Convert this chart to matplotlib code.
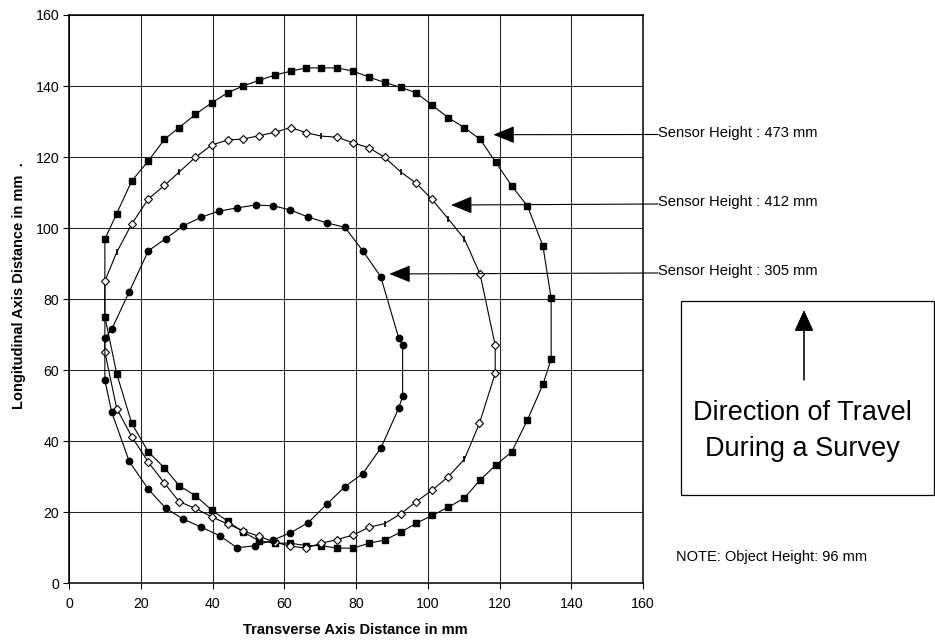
import numpy as np
import matplotlib
matplotlib.use('Agg')
import matplotlib.pyplot as plt
from matplotlib.patches import Rectangle

plt.rcParams['font.family'] = ['Liberation Sans', 'DejaVu Sans']

# ---- data (paths traced around each loop) ----
# Sensor height 473 mm (filled squares)
x473 = [10.0, 13.3, 17.5, 22.1, 26.6, 30.7, 35.2, 39.8, 44.2, 48.5, 53.0, 57.4, 61.9, 66.0, 70.3,
        74.7, 79.2, 83.7, 88.0, 92.5, 96.8, 101.2, 105.7, 110.2, 114.6, 118.9, 123.4, 127.8, 132.1,
        134.4, 134.4, 132.1, 127.8, 123.4, 118.9, 114.6, 110.2, 105.7, 101.2, 96.8, 92.5, 88.0,
        83.7, 79.2, 74.7, 70.3, 66.1, 61.7, 57.3, 52.9, 48.6, 44.2, 39.8, 35.2, 30.7, 26.6, 22.1,
        17.5, 13.3, 10.0, 10.0]
y473 = [96.9, 104.1, 113.3, 118.9, 125.0, 128.3, 132.0, 135.3, 138.1, 140.0, 141.6, 143.1, 144.2,
        145.1, 145.1, 145.1, 144.2, 142.5, 141.0, 139.6, 138.1, 134.6, 131.1, 128.3, 125.0, 118.6,
        111.9, 106.2, 95.0, 80.2, 63.1, 56.0, 46.0, 37.0, 33.2, 29.1, 24.0, 21.4, 19.1, 16.9, 14.4,
        12.2, 11.3, 9.9, 9.9, 10.6, 10.6, 11.3, 11.3, 12.0, 14.4, 17.5, 20.6, 24.7, 27.5, 32.5,
        37.0, 45.0, 59.0, 75.1, 96.9]

# Sensor height 412 mm (open diamonds, some points drawn as short ticks)
x412 = [10.0, 13.3, 17.5, 22.1, 26.6, 30.7, 35.2, 39.8, 44.2, 48.5, 53.0, 57.4, 61.8, 66.0, 70.3,
        74.7, 79.2, 83.7, 88.0, 92.5, 96.8, 101.2, 105.7, 110.2, 114.6, 118.8, 118.8, 114.4, 110.2,
        105.7, 101.2, 96.8, 92.5, 88.0, 83.7, 79.2, 74.7, 70.3, 66.0, 61.6, 57.3, 53.0, 48.5, 44.2,
        39.8, 35.2, 30.7, 26.6, 22.1, 17.5, 13.3, 10.0, 10.0]
y412 = [85.1, 93.2, 101.2, 108.2, 112.0, 115.8, 119.9, 123.4, 124.8, 125.1, 126.0, 127.0, 128.3,
        126.9, 125.9, 125.6, 124.0, 122.6, 119.9, 115.8, 112.6, 108.1, 102.6, 97.0, 87.0, 67.0,
        59.1, 45.0, 34.9, 30.0, 26.2, 23.0, 19.6, 16.8, 15.8, 13.6, 12.3, 11.3, 9.9, 10.5, 11.6,
        13.2, 14.8, 16.7, 18.7, 21.1, 23.0, 28.2, 34.1, 41.3, 49.2, 65.1, 85.1]
tick412 = [1, 5, 14, 19, 22, 23, 28, 33]

# Sensor height 305 mm (filled circles)
x305 = [16.8, 22.1, 26.9, 31.8, 36.9, 41.9, 46.9, 52.0, 56.9, 61.7, 66.7, 71.8, 76.9, 81.9, 86.9,
        91.9, 93.0, 93.0, 91.9, 87.0, 81.9, 76.9, 71.8, 66.7, 61.7, 56.9, 51.9, 46.9, 42.0, 36.9,
        31.8, 26.9, 22.1, 16.8, 11.9, 10.0, 10.0, 11.9, 16.8]
y305 = [82.1, 93.6, 97.0, 100.6, 103.1, 104.8, 105.7, 106.5, 106.3, 105.1, 103.1, 101.5, 100.2,
        93.6, 86.3, 69.1, 67.1, 52.7, 49.3, 38.2, 30.9, 27.2, 22.2, 17.1, 14.2, 12.2, 10.6, 10.0,
        13.4, 15.8, 18.1, 21.2, 26.5, 34.3, 48.2, 57.2, 69.0, 71.5, 82.1]

labels = ['Sensor Height : 473 mm', 'Sensor Height : 412 mm', 'Sensor Height : 305 mm']
label_tips = [(118.3, 126.3), (106.5, 106.5), (89.3, 87.1)]
label_rows = [137, 206.5, 275.5]   # baselines in image pixels from the top

ticks = [0, 20, 40, 60, 80, 100, 120, 140, 160]

W, H = 935, 641
fig = plt.figure(figsize=(W / 100, H / 100), dpi=100)
ax = fig.add_axes([69 / W, 1 - 583.3 / H, (643 - 69) / W, (583.3 - 15) / H])

ax.plot(x473, y473, color='black', lw=0.8, marker='s', ms=5.0, mfc='black', mec='black',
        markevery=list(range(len(x473) - 1)))
tick_set = set(tick412)
dia_idx = [i for i in range(len(x412) - 1) if i not in tick_set]
ax.plot(x412, y412, color='black', lw=0.8, marker='D', ms=3.7, mfc='white', mec='black',
        mew=0.8, markevery=dia_idx)
ax.plot([x412[i] for i in tick412], [y412[i] for i in tick412], ls='none', marker='|',
        ms=4.5, mew=1.2, color='black')
ax.plot(x305, y305, color='black', lw=0.8, marker='o', ms=4.6, mfc='black', mec='black',
        markevery=list(range(len(x305) - 1)))

ax.set_xlim(0, 160)
ax.set_ylim(0, 160)
ax.set_xticks(ticks)
ax.set_yticks(ticks)
ax.grid(True, color='#222222', lw=0.75)
ax.set_axisbelow(True)
for s in ax.spines.values():
    s.set_linewidth(1.1)
    s.set_color('black')
ax.tick_params(direction='out', length=4, width=0.8, labelsize=10.2, pad=3)
ax.tick_params(axis='x', pad=6)

fig.text(355 / W, 1 - 630 / H, 'Transverse Axis Distance in mm', ha='center', va='center',
         fontsize=10.5, fontweight='bold')
fig.text(19 / W, 1 - 286 / H, 'Longitudinal Axis Distance in mm  .', ha='center', va='center',
         rotation=90, fontsize=10.5, fontweight='bold')

# sensor height call-outs
for lab, tip, row in zip(labels, label_tips, label_rows):
    ax.annotate('', xy=tip, xycoords='data', xytext=(658 / W, 1 - (row - 2.5) / H),
                textcoords='figure fraction',
                arrowprops=dict(arrowstyle='-|>,head_length=1.1,head_width=0.45', color='black',
                                lw=0.8, shrinkA=0, shrinkB=0, mutation_scale=12),
                annotation_clip=False)
    fig.text(658 / W, 1 - row / H, lab, ha='left', va='baseline', fontsize=10.6)

# direction-of-travel box
fig.add_artist(Rectangle((681 / W, 1 - 495 / H), (933.5 - 681) / W, (495 - 301) / H,
                         transform=fig.transFigure, fill=False, ec='black', lw=0.9))
fig.add_artist(plt.annotate('', xy=(804 / W, 1 - 310.5 / H), xycoords='figure fraction',
                            xytext=(804 / W, 1 - 380 / H), textcoords='figure fraction',
                            arrowprops=dict(arrowstyle='-|>,head_length=1.1,head_width=0.5',
                                            color='black', lw=0.8, shrinkA=0, shrinkB=0,
                                            mutation_scale=12)))
fig.text(802 / W, 1 - 420 / H, 'Direction of Travel', ha='center', va='baseline', fontsize=19.5)
fig.text(802 / W, 1 - 456.5 / H, 'During a Survey', ha='center', va='baseline', fontsize=19.5)

fig.text(676 / W, 1 - 561.5 / H, 'NOTE: Object Height: 96 mm', ha='left', va='baseline',
         fontsize=10.5)

fig.savefig('out.png', dpi=100)
